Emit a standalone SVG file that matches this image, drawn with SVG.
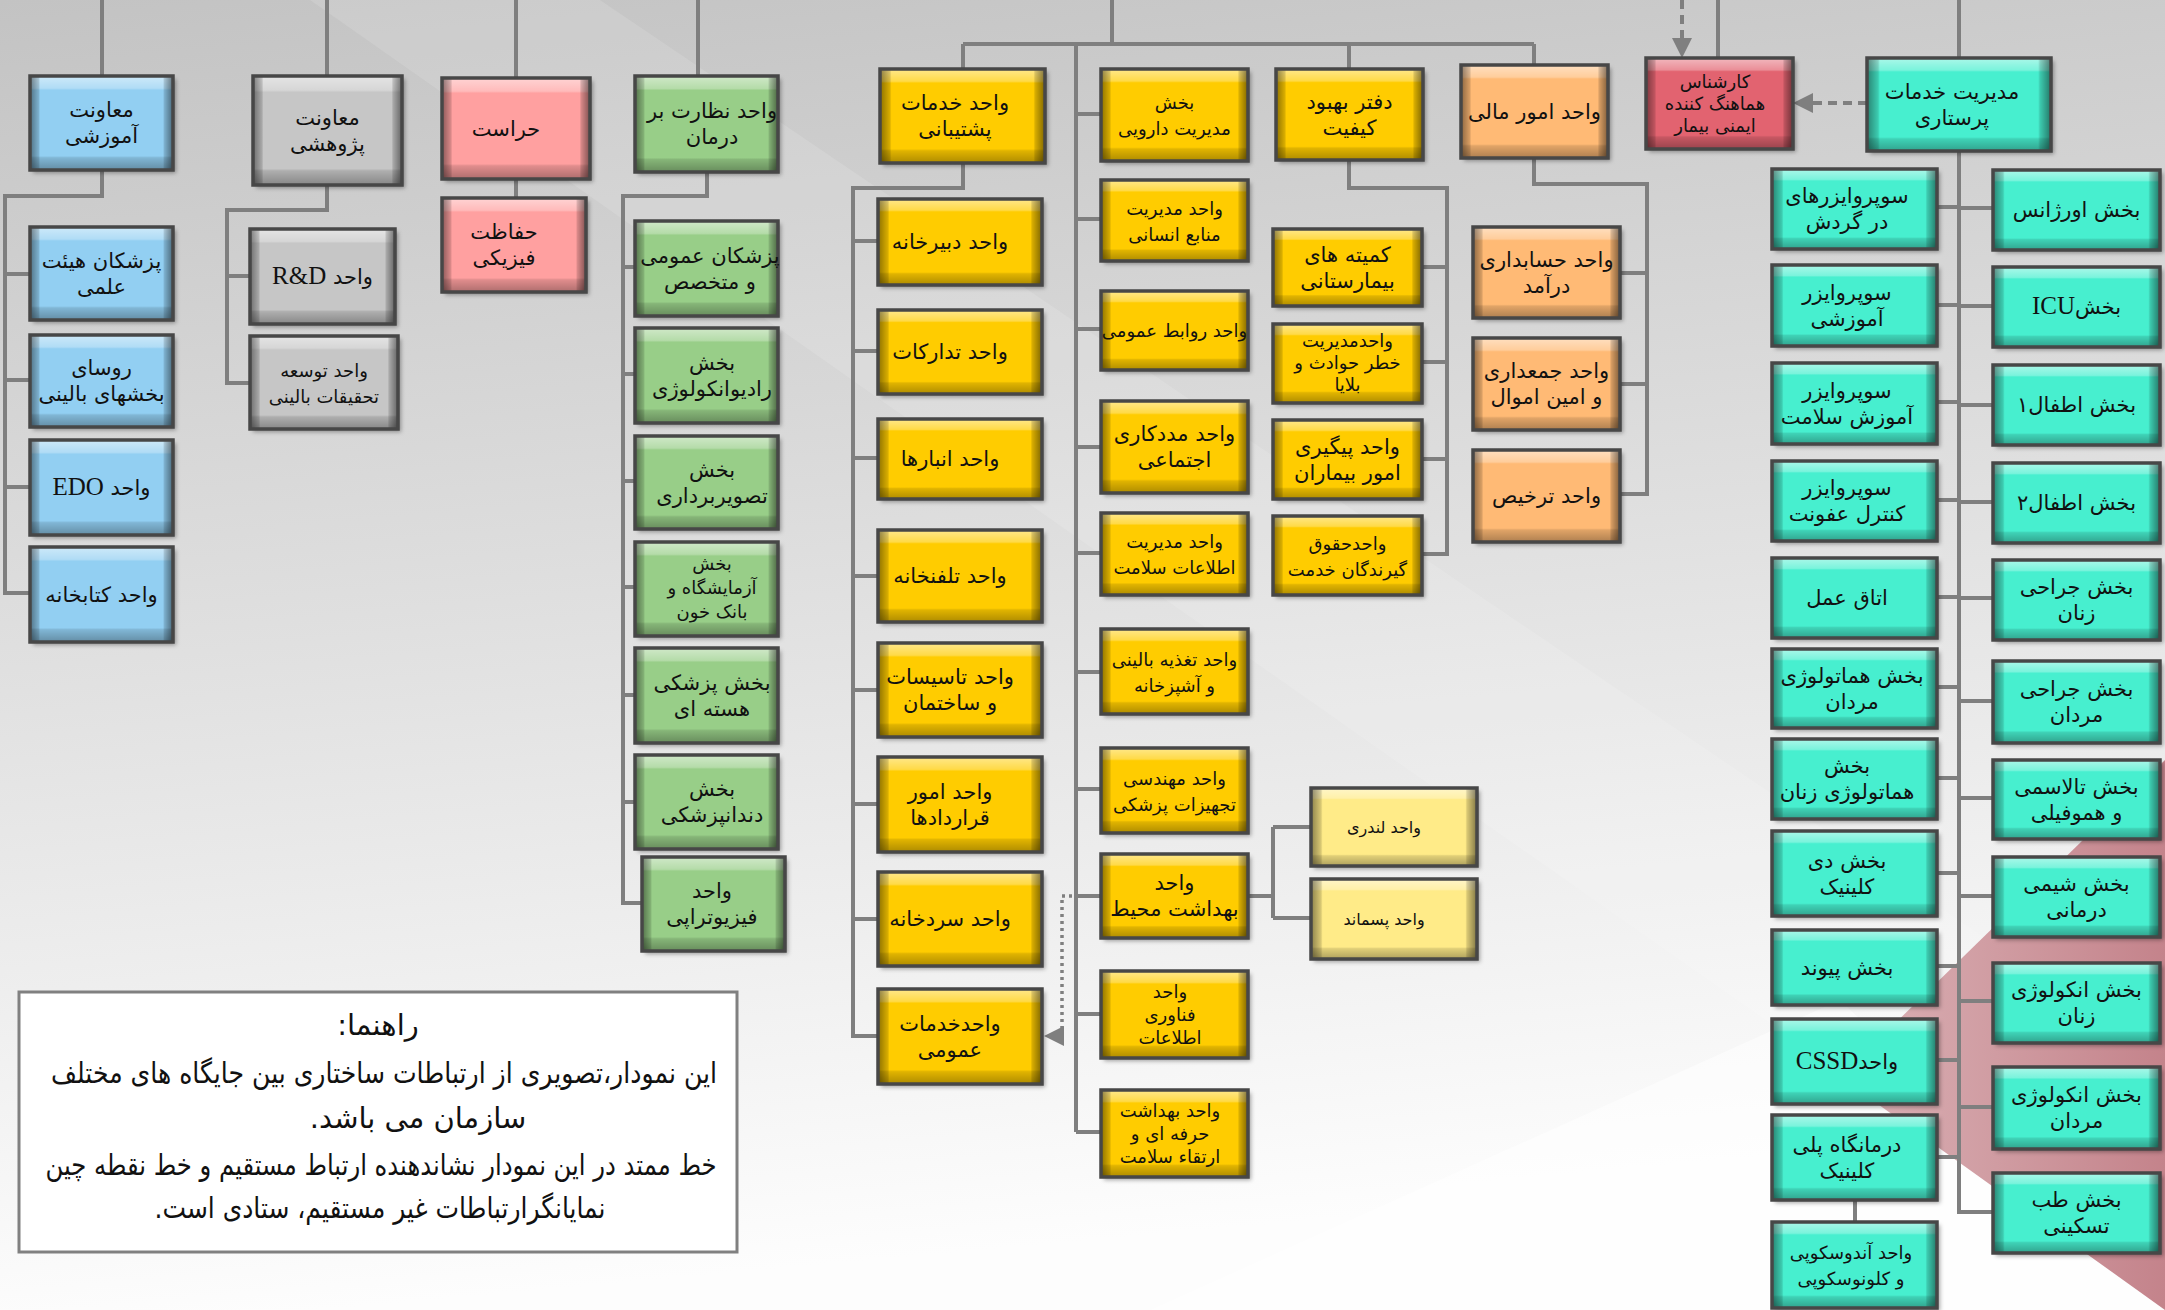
<svg xmlns="http://www.w3.org/2000/svg" width="2165" height="1310" viewBox="0 0 2165 1310">
<defs>
<linearGradient id="bg" x1="0" y1="0" x2="0.15" y2="1"><stop offset="0" stop-color="#c3c3c3"/><stop offset="0.5" stop-color="#e0e0e0"/><stop offset="1" stop-color="#fdfdfd"/></linearGradient>
<linearGradient id="pk" x1="0" y1="0" x2="1" y2="0"><stop offset="0" stop-color="#dbb3b7"/><stop offset="1" stop-color="#c4838b"/></linearGradient>
<linearGradient id="gv" x1="0" y1="0" x2="0" y2="1"><stop offset="0" stop-color="#fff" stop-opacity="0.55"/><stop offset="0.13" stop-color="#fff" stop-opacity="0.28"/><stop offset="0.15" stop-color="#fff" stop-opacity="0"/><stop offset="0.85" stop-color="#000" stop-opacity="0"/><stop offset="0.87" stop-color="#000" stop-opacity="0.12"/><stop offset="1" stop-color="#000" stop-opacity="0.32"/></linearGradient>
<linearGradient id="gh" x1="0" y1="0" x2="1" y2="0"><stop offset="0" stop-color="#000" stop-opacity="0.45"/><stop offset="0.06" stop-color="#000" stop-opacity="0.15"/><stop offset="0.07" stop-color="#000" stop-opacity="0"/><stop offset="0.93" stop-color="#000" stop-opacity="0"/><stop offset="0.94" stop-color="#000" stop-opacity="0.15"/><stop offset="1" stop-color="#000" stop-opacity="0.5"/></linearGradient>
<filter id="sh" x="-10%" y="-10%" width="125%" height="130%"><feDropShadow dx="3" dy="3" stdDeviation="2" flood-color="#000" flood-opacity="0.35"/></filter>
<marker id="ah" viewBox="0 0 10 10" refX="9" refY="5" markerWidth="20" markerHeight="20" markerUnits="userSpaceOnUse" orient="auto"><path d="M0,0 L10,5 L0,10 z" fill="#7f7f7f"/></marker>
<style>
.c{fill:none;stroke:#7f7f7f;stroke-width:4}
.d{fill:none;stroke:#7f7f7f;stroke-width:4;stroke-dasharray:9 6}
.dot{fill:none;stroke:#7f7f7f;stroke-width:3.5;stroke-dasharray:3 4}
.base{filter:url(#sh)}
.blue{fill:#92cff2}.gray{fill:#c6c6c6}.pink{fill:#ffa0a0}.green{fill:#98ce88}.yel{fill:#ffcc00}.lyel{fill:#ffeb88}.org{fill:#ffba74}.red{fill:#e2636f}.teal{fill:#47efcf}
.gv{fill:url(#gv)}
.gh{fill:url(#gh);stroke:#474747;stroke-width:3.5}
text{font-family:"DejaVu Sans",sans-serif;font-size:21px;fill:#111;text-anchor:middle;direction:rtl}
.s{font-size:18px}
.xs{font-size:16px}
.lat{font-family:"Liberation Serif",serif;font-size:25px}
.lg{font-size:29px}
</style>
</defs>
<rect width="2165" height="1310" fill="url(#bg)"/>
<polygon points="310,0 600,0 2165,1060 2165,1300" fill="#fff" opacity="0.12"/>
<polygon points="1150,1310 1840,1000 2165,1310" fill="#fff" opacity="0.5"/>
<polygon points="1840,1077 2165,760 2165,1310" fill="url(#pk)"/>

<g id="connectors">
<path class="c" d="M102,0V76 M327,0V76 M516,0V78 M698,0V76 M1112,0V44 M963,44H1534 M963,44V69 M1349,44V69 M1534,44V65 M1076,44V1132 M1718,0V58 M1959,0V58"/>
<path class="c" d="M102,170V196H5V593H30 M5,274H30 M5,380H30 M5,487H30"/>
<path class="c" d="M327,185V210H227V383H250 M227,276H250"/>
<path class="c" d="M516,179V198"/>
<path class="c" d="M707,172V196H623V903H642 M623,267H635 M623,374H635 M623,481H635 M623,587H635 M623,695H635 M623,802H635"/>
<path class="c" d="M963,163V188H853V1036H878 M853,241H878 M853,351H878 M853,458H878 M853,576H878 M853,690H878 M853,804H878 M853,919H878"/>
<path class="c" d="M1076,114H1101 M1076,219H1101 M1076,329H1101 M1076,447H1101 M1076,553H1101 M1076,672H1101 M1076,789H1101 M1076,896H1101 M1076,1014H1101 M1076,1132H1101"/>
<path class="c" d="M1248,896H1273 M1273,827V918 M1273,827H1311 M1273,918H1311"/>
<path class="c" d="M1349,160V188H1447V554H1422 M1447,267H1422 M1447,362H1422 M1447,459H1422"/>
<path class="c" d="M1534,158V184H1647V494H1620 M1647,273H1620 M1647,384H1620"/>
<path class="c" d="M1959,151V1212H1993 M1937,207H1959 M1937,305H1959 M1937,402H1959 M1937,500H1959 M1937,597H1959 M1937,687H1959 M1937,778H1959 M1937,873H1959 M1937,966H1959 M1937,1060H1959 M1937,1157H1959 M1959,208H1993 M1959,306H1993 M1959,405H1993 M1959,502H1993 M1959,598H1993 M1959,701H1993 M1959,798H1993 M1959,896H1993 M1959,1001H1993 M1959,1107H1993"/>
<path class="c" d="M1855,1200V1222"/>
<path class="d" d="M1682,0V56" marker-end="url(#ah)"/>
<path class="d" d="M1867,103H1795" marker-end="url(#ah)"/>
<path class="dot" d="M1072,896H1062V1036H1046" marker-end="url(#ah)"/>
</g>

<g id="n-amoozeshi"><rect class="base blue" x="30" y="76" width="143" height="94"/><rect class="gv" x="30" y="76" width="143" height="94"/><rect class="gh" x="30" y="76" width="143" height="94"/><text><tspan x="101.5" y="117">معاونت</tspan><tspan x="101.5" y="143">آموزشی</tspan></text></g>
<g id="n-heyat"><rect class="base blue" x="30" y="227" width="143" height="93"/><rect class="gv" x="30" y="227" width="143" height="93"/><rect class="gh" x="30" y="227" width="143" height="93"/><text><tspan x="101.5" y="267.5">پزشکان هیئت</tspan><tspan x="101.5" y="293.5">علمی</tspan></text></g>
<g id="n-roosa"><rect class="base blue" x="30" y="335" width="143" height="92"/><rect class="gv" x="30" y="335" width="143" height="92"/><rect class="gh" x="30" y="335" width="143" height="92"/><text><tspan x="101.5" y="375">روسای</tspan><tspan x="101.5" y="401">بخشهای بالینی</tspan></text></g>
<g id="n-edo"><rect class="base blue" x="30" y="440" width="143" height="95"/><rect class="gv" x="30" y="440" width="143" height="95"/><rect class="gh" x="30" y="440" width="143" height="95"/><text x="101.5" y="494.5">واحد <tspan class="lat">EDO</tspan></text></g>
<g id="n-ketab"><rect class="base blue" x="30" y="547" width="143" height="95"/><rect class="gv" x="30" y="547" width="143" height="95"/><rect class="gh" x="30" y="547" width="143" height="95"/><text x="101.5" y="601.5">واحد کتابخانه</text></g>

<g id="n-pajooheshi"><rect class="base gray" x="253" y="76" width="149" height="109"/><rect class="gv" x="253" y="76" width="149" height="109"/><rect class="gh" x="253" y="76" width="149" height="109"/><text><tspan x="327.5" y="124.5">معاونت</tspan><tspan x="327.5" y="150.5">پژوهشی</tspan></text></g>
<g id="n-rd"><rect class="base gray" x="250" y="229" width="145" height="95"/><rect class="gv" x="250" y="229" width="145" height="95"/><rect class="gh" x="250" y="229" width="145" height="95"/><text x="322.5" y="283.5">واحد <tspan class="lat">R&amp;D</tspan></text></g>
<g id="n-toseeh"><rect class="base gray" x="250" y="336" width="148" height="93"/><rect class="gv" x="250" y="336" width="148" height="93"/><rect class="gh" x="250" y="336" width="148" height="93"/><text class="s"><tspan x="324" y="376.5">واحد توسعه</tspan><tspan x="324" y="402.5">تحقیقات بالینی</tspan></text></g>

<g id="n-herasat"><rect class="base pink" x="442" y="78" width="148" height="101"/><rect class="gv" x="442" y="78" width="148" height="101"/><rect class="gh" x="442" y="78" width="148" height="101"/><text x="506" y="135.5">حراست</text></g>
<g id="n-hefazat"><rect class="base pink" x="442" y="198" width="144" height="94"/><rect class="gv" x="442" y="198" width="144" height="94"/><rect class="gh" x="442" y="198" width="144" height="94"/><text><tspan x="504" y="239">حفاظت</tspan><tspan x="504" y="265">فیزیکی</tspan></text></g>

<g id="n-nezarat"><rect class="base green" x="635" y="76" width="143" height="96"/><rect class="gv" x="635" y="76" width="143" height="96"/><rect class="gh" x="635" y="76" width="143" height="96"/><text><tspan x="712" y="118">واحد نظارت بر</tspan><tspan x="712" y="144">درمان</tspan></text></g>
<g id="n-omoomi"><rect class="base green" x="635" y="221" width="143" height="95"/><rect class="gv" x="635" y="221" width="143" height="95"/><rect class="gh" x="635" y="221" width="143" height="95"/><text><tspan x="710" y="262.5">پزشکان عمومی</tspan><tspan x="710" y="288.5">و متخصص</tspan></text></g>
<g id="n-radio"><rect class="base green" x="635" y="328" width="143" height="95"/><rect class="gv" x="635" y="328" width="143" height="95"/><rect class="gh" x="635" y="328" width="143" height="95"/><text><tspan x="712" y="369.5">بخش</tspan><tspan x="712" y="395.5">رادیوانکولوژی</tspan></text></g>
<g id="n-tasvir"><rect class="base green" x="635" y="436" width="143" height="93"/><rect class="gv" x="635" y="436" width="143" height="93"/><rect class="gh" x="635" y="436" width="143" height="93"/><text><tspan x="712" y="476.5">بخش</tspan><tspan x="712" y="502.5">تصویربرداری</tspan></text></g>
<g id="n-azmayesh"><rect class="base green" x="635" y="542" width="143" height="94"/><rect class="gv" x="635" y="542" width="143" height="94"/><rect class="gh" x="635" y="542" width="143" height="94"/><text class="s"><tspan x="712" y="570">بخش</tspan><tspan x="712" y="594">آزمایشگاه و</tspan><tspan x="712" y="618">بانک خون</tspan></text></g>
<g id="n-hastei"><rect class="base green" x="635" y="648" width="143" height="95"/><rect class="gv" x="635" y="648" width="143" height="95"/><rect class="gh" x="635" y="648" width="143" height="95"/><text><tspan x="712" y="689.5">بخش پزشکی</tspan><tspan x="712" y="715.5">هسته ای</tspan></text></g>
<g id="n-dandan"><rect class="base green" x="635" y="755" width="143" height="94"/><rect class="gv" x="635" y="755" width="143" height="94"/><rect class="gh" x="635" y="755" width="143" height="94"/><text><tspan x="712" y="796">بخش</tspan><tspan x="712" y="822">دندانپزشکی</tspan></text></g>
<g id="n-physio"><rect class="base green" x="642" y="857" width="143" height="94"/><rect class="gv" x="642" y="857" width="143" height="94"/><rect class="gh" x="642" y="857" width="143" height="94"/><text><tspan x="712" y="898">واحد</tspan><tspan x="712" y="924">فیزیوتراپی</tspan></text></g>

<g id="n-poshtibani"><rect class="base yel" x="880" y="69" width="165" height="94"/><rect class="gv" x="880" y="69" width="165" height="94"/><rect class="gh" x="880" y="69" width="165" height="94"/><text><tspan x="955" y="110">واحد خدمات</tspan><tspan x="955" y="136">پشتیبانی</tspan></text></g>
<g id="n-dabir"><rect class="base yel" x="878" y="199" width="164" height="86"/><rect class="gv" x="878" y="199" width="164" height="86"/><rect class="gh" x="878" y="199" width="164" height="86"/><text x="950" y="249">واحد دبیرخانه</text></g>
<g id="n-tadarokat"><rect class="base yel" x="878" y="310" width="164" height="84"/><rect class="gv" x="878" y="310" width="164" height="84"/><rect class="gh" x="878" y="310" width="164" height="84"/><text x="950" y="359">واحد تدارکات</text></g>
<g id="n-anbar"><rect class="base yel" x="878" y="419" width="164" height="80"/><rect class="gv" x="878" y="419" width="164" height="80"/><rect class="gh" x="878" y="419" width="164" height="80"/><text x="950" y="466">واحد انبارها</text></g>
<g id="n-telefon"><rect class="base yel" x="878" y="530" width="164" height="92"/><rect class="gv" x="878" y="530" width="164" height="92"/><rect class="gh" x="878" y="530" width="164" height="92"/><text x="950" y="583">واحد تلفنخانه</text></g>
<g id="n-tasisat"><rect class="base yel" x="878" y="643" width="164" height="94"/><rect class="gv" x="878" y="643" width="164" height="94"/><rect class="gh" x="878" y="643" width="164" height="94"/><text><tspan x="950" y="684">واحد تاسیسات</tspan><tspan x="950" y="710">و ساختمان</tspan></text></g>
<g id="n-gharardad"><rect class="base yel" x="878" y="757" width="164" height="95"/><rect class="gv" x="878" y="757" width="164" height="95"/><rect class="gh" x="878" y="757" width="164" height="95"/><text><tspan x="950" y="798.5">واحد امور</tspan><tspan x="950" y="824.5">قراردادها</tspan></text></g>
<g id="n-sardkhane"><rect class="base yel" x="878" y="872" width="164" height="94"/><rect class="gv" x="878" y="872" width="164" height="94"/><rect class="gh" x="878" y="872" width="164" height="94"/><text x="950" y="926">واحد سردخانه</text></g>
<g id="n-khadamat"><rect class="base yel" x="878" y="989" width="164" height="95"/><rect class="gv" x="878" y="989" width="164" height="95"/><rect class="gh" x="878" y="989" width="164" height="95"/><text><tspan x="950" y="1030.5">واحدخدمات</tspan><tspan x="950" y="1056.5">عمومی</tspan></text></g>

<g id="n-daroo"><rect class="base yel" x="1101" y="69" width="147" height="92"/><rect class="gv" x="1101" y="69" width="147" height="92"/><rect class="gh" x="1101" y="69" width="147" height="92"/><text class="s"><tspan x="1174.5" y="109">بخش</tspan><tspan x="1174.5" y="135">مدیریت دارویی</tspan></text></g>
<g id="n-ensani"><rect class="base yel" x="1101" y="180" width="147" height="81"/><rect class="gv" x="1101" y="180" width="147" height="81"/><rect class="gh" x="1101" y="180" width="147" height="81"/><text class="s"><tspan x="1174.5" y="214.5">واحد مدیریت</tspan><tspan x="1174.5" y="240.5">منابع انسانی</tspan></text></g>
<g id="n-ravabet"><rect class="base yel" x="1101" y="291" width="147" height="79"/><rect class="gv" x="1101" y="291" width="147" height="79"/><rect class="gh" x="1101" y="291" width="147" height="79"/><text class="s" x="1174.5" y="337">واحد روابط عمومی</text></g>
<g id="n-madadkari"><rect class="base yel" x="1101" y="401" width="147" height="92"/><rect class="gv" x="1101" y="401" width="147" height="92"/><rect class="gh" x="1101" y="401" width="147" height="92"/><text><tspan x="1174.5" y="441">واحد مددکاری</tspan><tspan x="1174.5" y="467">اجتماعی</tspan></text></g>
<g id="n-etelaat"><rect class="base yel" x="1101" y="513" width="147" height="82"/><rect class="gv" x="1101" y="513" width="147" height="82"/><rect class="gh" x="1101" y="513" width="147" height="82"/><text class="s"><tspan x="1174.5" y="548">واحد مدیریت</tspan><tspan x="1174.5" y="574">اطلاعات سلامت</tspan></text></g>
<g id="n-taghzie"><rect class="base yel" x="1101" y="629" width="147" height="85"/><rect class="gv" x="1101" y="629" width="147" height="85"/><rect class="gh" x="1101" y="629" width="147" height="85"/><text class="s"><tspan x="1174.5" y="665.5">واحد تغذیه بالینی</tspan><tspan x="1174.5" y="691.5">و آشپزخانه</tspan></text></g>
<g id="n-mohandesi"><rect class="base yel" x="1101" y="748" width="147" height="85"/><rect class="gv" x="1101" y="748" width="147" height="85"/><rect class="gh" x="1101" y="748" width="147" height="85"/><text class="s"><tspan x="1174.5" y="784.5">واحد مهندسی</tspan><tspan x="1174.5" y="810.5">تجهیزات پزشکی</tspan></text></g>
<g id="n-mohit"><rect class="base yel" x="1101" y="854" width="147" height="84"/><rect class="gv" x="1101" y="854" width="147" height="84"/><rect class="gh" x="1101" y="854" width="147" height="84"/><text><tspan x="1174.5" y="890">واحد</tspan><tspan x="1174.5" y="916">بهداشت محیط</tspan></text></g>
<g id="n-fanavari"><rect class="base yel" x="1101" y="971" width="147" height="87"/><rect class="gv" x="1101" y="971" width="147" height="87"/><rect class="gh" x="1101" y="971" width="147" height="87"/><text class="s"><tspan x="1170" y="998">واحد</tspan><tspan x="1170" y="1021">فناوری</tspan><tspan x="1170" y="1044">اطلاعات</tspan></text></g>
<g id="n-herfei"><rect class="base yel" x="1101" y="1090" width="147" height="87"/><rect class="gv" x="1101" y="1090" width="147" height="87"/><rect class="gh" x="1101" y="1090" width="147" height="87"/><text class="s"><tspan x="1170" y="1117">واحد بهداشت</tspan><tspan x="1170" y="1140">حرفه ای و</tspan><tspan x="1170" y="1163">ارتقاء سلامت</tspan></text></g>

<g id="n-londri"><rect class="base lyel" x="1311" y="788" width="166" height="78"/><rect class="gv" x="1311" y="788" width="166" height="78"/><rect class="gh" x="1311" y="788" width="166" height="78"/><text class="xs" x="1384" y="833">واحد لندری</text></g>
<g id="n-pasmand"><rect class="base lyel" x="1311" y="879" width="166" height="80"/><rect class="gv" x="1311" y="879" width="166" height="80"/><rect class="gh" x="1311" y="879" width="166" height="80"/><text class="xs" x="1384" y="925">واحد پسماند</text></g>

<g id="n-keyfiat"><rect class="base yel" x="1276" y="69" width="147" height="91"/><rect class="gv" x="1276" y="69" width="147" height="91"/><rect class="gh" x="1276" y="69" width="147" height="91"/><text><tspan x="1349.5" y="108.5">دفتر بهبود</tspan><tspan x="1349.5" y="134.5">کیفیت</tspan></text></g>
<g id="n-komite"><rect class="base yel" x="1273" y="229" width="149" height="77"/><rect class="gv" x="1273" y="229" width="149" height="77"/><rect class="gh" x="1273" y="229" width="149" height="77"/><text><tspan x="1347.5" y="261.5">کمیته های</tspan><tspan x="1347.5" y="287.5">بیمارستانی</tspan></text></g>
<g id="n-khatar"><rect class="base yel" x="1273" y="324" width="149" height="79"/><rect class="gv" x="1273" y="324" width="149" height="79"/><rect class="gh" x="1273" y="324" width="149" height="79"/><text class="s"><tspan x="1347.5" y="347">واحدمدیریت</tspan><tspan x="1347.5" y="369">خطر حوادث و</tspan><tspan x="1347.5" y="391">بلایا</tspan></text></g>
<g id="n-peygiri"><rect class="base yel" x="1273" y="420" width="149" height="79"/><rect class="gv" x="1273" y="420" width="149" height="79"/><rect class="gh" x="1273" y="420" width="149" height="79"/><text><tspan x="1347.5" y="453.5">واحد پیگیری</tspan><tspan x="1347.5" y="479.5">امور بیماران</tspan></text></g>
<g id="n-hoghoogh"><rect class="base yel" x="1273" y="516" width="149" height="79"/><rect class="gv" x="1273" y="516" width="149" height="79"/><rect class="gh" x="1273" y="516" width="149" height="79"/><text class="s"><tspan x="1347.5" y="549.5">واحدحقوق</tspan><tspan x="1347.5" y="575.5">گیرندگان خدمت</tspan></text></g>

<g id="n-mali"><rect class="base org" x="1461" y="65" width="147" height="93"/><rect class="gv" x="1461" y="65" width="147" height="93"/><rect class="gh" x="1461" y="65" width="147" height="93"/><text x="1534.5" y="118.5">واحد امور مالی</text></g>
<g id="n-hesabdari"><rect class="base org" x="1473" y="227" width="147" height="91"/><rect class="gv" x="1473" y="227" width="147" height="91"/><rect class="gh" x="1473" y="227" width="147" height="91"/><text><tspan x="1546.5" y="266.5">واحد حسابداری</tspan><tspan x="1546.5" y="292.5">درآمد</tspan></text></g>
<g id="n-jamdari"><rect class="base org" x="1473" y="338" width="147" height="92"/><rect class="gv" x="1473" y="338" width="147" height="92"/><rect class="gh" x="1473" y="338" width="147" height="92"/><text><tspan x="1546.5" y="378">واحد جمعداری</tspan><tspan x="1546.5" y="404">و امین اموال</tspan></text></g>
<g id="n-tarkhis"><rect class="base org" x="1473" y="450" width="147" height="92"/><rect class="gv" x="1473" y="450" width="147" height="92"/><rect class="gh" x="1473" y="450" width="147" height="92"/><text x="1546.5" y="503">واحد ترخیص</text></g>

<g id="n-karshenas"><rect class="base red" x="1646" y="58" width="147" height="91"/><rect class="gv" x="1646" y="58" width="147" height="91"/><rect class="gh" x="1646" y="58" width="147" height="91"/><text class="s"><tspan x="1715" y="87.5">کارشناس</tspan><tspan x="1715" y="109.5">هماهنگ کننده</tspan><tspan x="1715" y="131.5">ایمنی بیمار</tspan></text></g>

<g id="n-parastari"><rect class="base teal" x="1867" y="58" width="184" height="93"/><rect class="gv" x="1867" y="58" width="184" height="93"/><rect class="gh" x="1867" y="58" width="184" height="93"/><text><tspan x="1952" y="98.5">مدیریت خدمات</tspan><tspan x="1952" y="124.5">پرستاری</tspan></text></g>
<g id="n-gardesh"><rect class="base teal" x="1772" y="169" width="165" height="80"/><rect class="gv" x="1772" y="169" width="165" height="80"/><rect class="gh" x="1772" y="169" width="165" height="80"/><text><tspan x="1847" y="203">سوپروایزرهای</tspan><tspan x="1847" y="229">در گردش</tspan></text></g>
<g id="n-sup-amoozeshi"><rect class="base teal" x="1772" y="265" width="165" height="81"/><rect class="gv" x="1772" y="265" width="165" height="81"/><rect class="gh" x="1772" y="265" width="165" height="81"/><text><tspan x="1847" y="299.5">سوپروایزر</tspan><tspan x="1847" y="325.5">آموزشی</tspan></text></g>
<g id="n-sup-salamat"><rect class="base teal" x="1772" y="363" width="165" height="81"/><rect class="gv" x="1772" y="363" width="165" height="81"/><rect class="gh" x="1772" y="363" width="165" height="81"/><text><tspan x="1847" y="397.5">سوپروایزر</tspan><tspan x="1847" y="423.5">آموزش سلامت</tspan></text></g>
<g id="n-sup-ofoonat"><rect class="base teal" x="1772" y="461" width="165" height="80"/><rect class="gv" x="1772" y="461" width="165" height="80"/><rect class="gh" x="1772" y="461" width="165" height="80"/><text><tspan x="1847" y="495">سوپروایزر</tspan><tspan x="1847" y="521">کنترل عفونت</tspan></text></g>
<g id="n-amal"><rect class="base teal" x="1772" y="558" width="165" height="80"/><rect class="gv" x="1772" y="558" width="165" height="80"/><rect class="gh" x="1772" y="558" width="165" height="80"/><text x="1847" y="605">اتاق عمل</text></g>
<g id="n-hemat-mardan"><rect class="base teal" x="1772" y="649" width="165" height="79"/><rect class="gv" x="1772" y="649" width="165" height="79"/><rect class="gh" x="1772" y="649" width="165" height="79"/><text><tspan x="1852" y="682.5">بخش هماتولوژی</tspan><tspan x="1852" y="708.5">مردان</tspan></text></g>
<g id="n-hemat-zanan"><rect class="base teal" x="1772" y="739" width="165" height="80"/><rect class="gv" x="1772" y="739" width="165" height="80"/><rect class="gh" x="1772" y="739" width="165" height="80"/><text><tspan x="1847" y="773">بخش</tspan><tspan x="1847" y="799">هماتولوژی زنان</tspan></text></g>
<g id="n-dayclinic"><rect class="base teal" x="1772" y="831" width="165" height="85"/><rect class="gv" x="1772" y="831" width="165" height="85"/><rect class="gh" x="1772" y="831" width="165" height="85"/><text><tspan x="1847" y="867.5">بخش دی</tspan><tspan x="1847" y="893.5">کلینیک</tspan></text></g>
<g id="n-peyvand"><rect class="base teal" x="1772" y="930" width="165" height="75"/><rect class="gv" x="1772" y="930" width="165" height="75"/><rect class="gh" x="1772" y="930" width="165" height="75"/><text x="1847" y="974.5">بخش پیوند</text></g>
<g id="n-cssd"><rect class="base teal" x="1772" y="1019" width="165" height="85"/><rect class="gv" x="1772" y="1019" width="165" height="85"/><rect class="gh" x="1772" y="1019" width="165" height="85"/><text x="1847" y="1068.5">واحد<tspan class="lat">CSSD</tspan></text></g>
<g id="n-polyclinic"><rect class="base teal" x="1772" y="1115" width="165" height="85"/><rect class="gv" x="1772" y="1115" width="165" height="85"/><rect class="gh" x="1772" y="1115" width="165" height="85"/><text><tspan x="1847" y="1151.5">درمانگاه پلی</tspan><tspan x="1847" y="1177.5">کلینیک</tspan></text></g>
<g id="n-endoscopy"><rect class="base teal" x="1772" y="1222" width="165" height="86"/><rect class="gv" x="1772" y="1222" width="165" height="86"/><rect class="gh" x="1772" y="1222" width="165" height="86"/><text class="s"><tspan x="1851" y="1259">واحد آندوسکوپی</tspan><tspan x="1851" y="1285">و کلونوسکوپی</tspan></text></g>

<g id="n-orjans"><rect class="base teal" x="1993" y="170" width="167" height="80"/><rect class="gv" x="1993" y="170" width="167" height="80"/><rect class="gh" x="1993" y="170" width="167" height="80"/><text x="2076.5" y="217">بخش اورژانس</text></g>
<g id="n-icu"><rect class="base teal" x="1993" y="267" width="167" height="80"/><rect class="gv" x="1993" y="267" width="167" height="80"/><rect class="gh" x="1993" y="267" width="167" height="80"/><text x="2076.5" y="314">بخش<tspan class="lat">ICU</tspan></text></g>
<g id="n-atfal1"><rect class="base teal" x="1993" y="365" width="167" height="80"/><rect class="gv" x="1993" y="365" width="167" height="80"/><rect class="gh" x="1993" y="365" width="167" height="80"/><text x="2076.5" y="412">بخش اطفال۱</text></g>
<g id="n-atfal2"><rect class="base teal" x="1993" y="463" width="167" height="80"/><rect class="gv" x="1993" y="463" width="167" height="80"/><rect class="gh" x="1993" y="463" width="167" height="80"/><text x="2076.5" y="510">بخش اطفال۲</text></g>
<g id="n-jarahi-zanan"><rect class="base teal" x="1993" y="560" width="167" height="80"/><rect class="gv" x="1993" y="560" width="167" height="80"/><rect class="gh" x="1993" y="560" width="167" height="80"/><text><tspan x="2076.5" y="594">بخش جراحی</tspan><tspan x="2076.5" y="620">زنان</tspan></text></g>
<g id="n-jarahi-mardan"><rect class="base teal" x="1993" y="661" width="167" height="82"/><rect class="gv" x="1993" y="661" width="167" height="82"/><rect class="gh" x="1993" y="661" width="167" height="82"/><text><tspan x="2076.5" y="696">بخش جراحی</tspan><tspan x="2076.5" y="722">مردان</tspan></text></g>
<g id="n-talasemi"><rect class="base teal" x="1993" y="760" width="167" height="79"/><rect class="gv" x="1993" y="760" width="167" height="79"/><rect class="gh" x="1993" y="760" width="167" height="79"/><text><tspan x="2076.5" y="793.5">بخش تالاسمی</tspan><tspan x="2076.5" y="819.5">و هموفیلی</tspan></text></g>
<g id="n-shimi"><rect class="base teal" x="1993" y="857" width="167" height="80"/><rect class="gv" x="1993" y="857" width="167" height="80"/><rect class="gh" x="1993" y="857" width="167" height="80"/><text><tspan x="2076.5" y="891">بخش شیمی</tspan><tspan x="2076.5" y="917">درمانی</tspan></text></g>
<g id="n-onko-zanan"><rect class="base teal" x="1993" y="963" width="167" height="80"/><rect class="gv" x="1993" y="963" width="167" height="80"/><rect class="gh" x="1993" y="963" width="167" height="80"/><text><tspan x="2076.5" y="997">بخش انکولوژی</tspan><tspan x="2076.5" y="1023">زنان</tspan></text></g>
<g id="n-onko-mardan"><rect class="base teal" x="1993" y="1067" width="167" height="82"/><rect class="gv" x="1993" y="1067" width="167" height="82"/><rect class="gh" x="1993" y="1067" width="167" height="82"/><text><tspan x="2076.5" y="1102">بخش انکولوژی</tspan><tspan x="2076.5" y="1128">مردان</tspan></text></g>
<g id="n-teskini"><rect class="base teal" x="1993" y="1173" width="167" height="80"/><rect class="gv" x="1993" y="1173" width="167" height="80"/><rect class="gh" x="1993" y="1173" width="167" height="80"/><text><tspan x="2076.5" y="1207">بخش طب</tspan><tspan x="2076.5" y="1233">تسکینی</tspan></text></g>

<g id="legend">
<rect x="19" y="992" width="718" height="260" fill="#fff" stroke="#808080" stroke-width="3"/>
<text class="lg" x="378" y="1035">راهنما:</text>
<text class="lg" x="384" y="1083" textLength="666" lengthAdjust="spacingAndGlyphs">این نمودار،تصویری از ارتباطات ساختاری بین جایگاه های مختلف</text>
<text class="lg" x="418" y="1128">سازمان می باشد.</text>
<text class="lg" x="381" y="1175" textLength="671" lengthAdjust="spacingAndGlyphs">خط ممتد در این نمودار نشاندهنده ارتباط مستقیم و خط نقطه چین</text>
<text class="lg" x="380" y="1218" textLength="451" lengthAdjust="spacingAndGlyphs">نمایانگرارتباطات غیر مستقیم، ستادی  است.</text>
</g>
</svg>
